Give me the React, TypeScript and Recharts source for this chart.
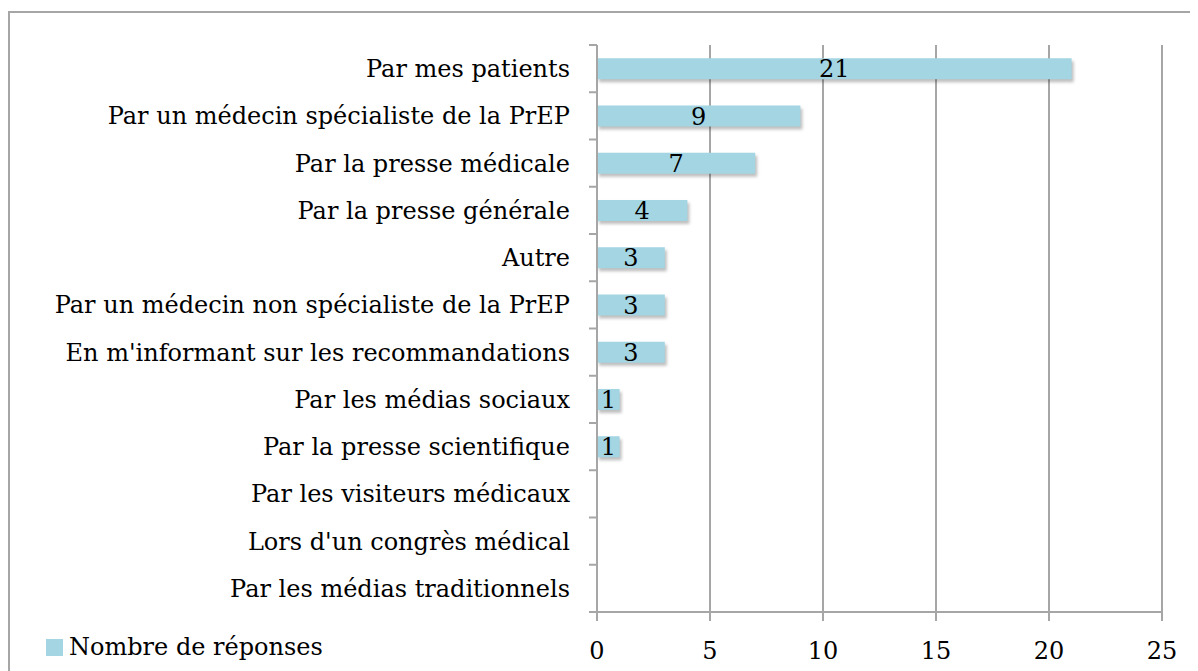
import React from 'react'
import { BarChart, Bar, XAxis, YAxis, CartesianGrid, LabelList } from 'recharts'

const categories = [
    'Par mes patients',
    'Par un médecin spécialiste de la PrEP',
    'Par la presse médicale',
    'Par la presse générale',
    'Autre',
    'Par un médecin non spécialiste de la PrEP',
    "En m'informant sur les recommandations",
    'Par les médias sociaux',
    'Par la presse scientifique',
    'Par les visiteurs médicaux',
    "Lors d'un congrès médical",
    'Par les médias traditionnels',
]
const responses = [21, 9, 7, 4, 3, 3, 3, 1, 1, 0, 0, 0]
const xTicks = [0, 5, 10, 15, 20, 25]
const seriesName = 'Nombre de réponses'

const FONT = '"DejaVu Serif", serif'
const GRAY = '#a6a6a6'
const BAR = '#a3d5e3'

const chartData = categories.map((cat, i) => ({ cat, value: responses[i] }))

const CategoryTick = (props: any) => {
    const { x, y, payload, index, visibleTicksCount } = props
    const half = payload.offset || 0
    const isLast = index === visibleTicksCount - 1
    return (
        <g>
            <line x1={x + 19} x2={x + 27} y1={y - half} y2={y - half} stroke={GRAY} strokeWidth={2} />
            {isLast && (
                <line x1={x + 19} x2={x + 27} y1={y + half} y2={y + half} stroke={GRAY} strokeWidth={2} />
            )}
            <text x={x} y={y} dy="0.355em" textAnchor="end" fill="#000" fontSize={24} fontFamily={FONT}>
                {payload.value}
            </text>
        </g>
    )
}

// bar with a soft shadow below-right, like the original
const renderBar = (props: any) => {
    const x = Number(props.x)
    const y = Number(props.y)
    const width = Number(props.width)
    const height = Number(props.height)
    if (!(width > 0) || !(height > 0)) return <g />
    return (
        <g>
            <rect x={x + 2} y={y + 3} width={width} height={height} fill="rgba(0,0,0,0.25)" filter="url(#barShadow)" />
            <rect x={x} y={y} width={width} height={height} fill={BAR} />
        </g>
    )
}

const App = () => {
    return (
        <div
            style={{
                width: 1190,
                height: 662,
                marginTop: 3,
                border: `2px solid ${GRAY}`,
                boxSizing: 'border-box',
                position: 'relative',
            }}
        >
            <style>{`body{overflow:hidden}`}</style>
            <svg width={0} height={0} style={{ position: 'absolute' }}>
                <defs>
                    <filter id="barShadow" x="-10%" y="-50%" width="120%" height="200%">
                        <feGaussianBlur stdDeviation="1.5" />
                    </filter>
                </defs>
            </svg>
            <BarChart
                width={1186}
                height={658}
                data={chartData}
                layout="vertical"
                margin={{ top: 32, right: 34, bottom: 0, left: 0 }}
                barCategoryGap="28%"
            >
                <CartesianGrid horizontal={false} vertical stroke={GRAY} strokeWidth={2} />
                <XAxis
                    type="number"
                    domain={[0, 25]}
                    ticks={xTicks}
                    height={59}
                    tickSize={9}
                    tickMargin={21}
                    stroke={GRAY}
                    strokeWidth={2}
                    tick={{ fill: '#000', fontSize: 24, fontFamily: FONT }}
                    interval={0}
                />
                <YAxis
                    type="category"
                    dataKey="cat"
                    width={587}
                    tickSize={8}
                    tickMargin={19}
                    tickLine={false}
                    stroke={GRAY}
                    strokeWidth={2}
                    tick={<CategoryTick />}
                    interval={0}
                />
                <Bar dataKey="value" name={seriesName} fill={BAR} shape={renderBar} isAnimationActive={false}>
                    <LabelList
                        dataKey="value"
                        position="center"
                        fill="#000"
                        fontSize={24}
                        fontFamily={FONT}
                        formatter={(v: any) => (v ? v : '')}
                    />
                </Bar>
            </BarChart>
            <div
                style={{
                    position: 'absolute',
                    left: 36,
                    top: 620,
                    display: 'flex',
                    alignItems: 'center',
                    fontFamily: FONT,
                    fontSize: 24,
                    color: '#000',
                }}
            >
                <span style={{ display: 'inline-block', width: 17, height: 17, background: BAR, marginRight: 6 }} />
                <span>{seriesName}</span>
            </div>
        </div>
    )
}

export default App
